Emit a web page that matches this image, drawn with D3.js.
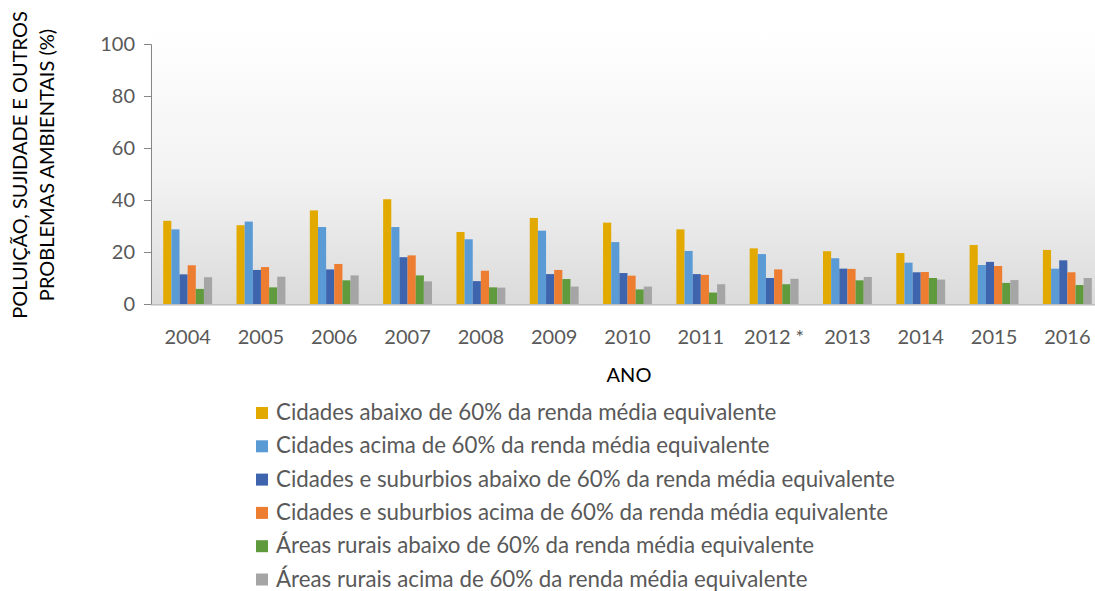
<!DOCTYPE html>
<html>
<head>
<meta charset="utf-8">
<script src="https://cdn.jsdelivr.net/npm/d3@7"></script>
<style>
  body { margin: 0; background: #fff; }
  text { font-family: Lato, "Open Sans", sans-serif; }
</style>
</head>
<body>
<svg id="chart" width="1095" height="591"></svg>
<script>
// Categories and series
const years = ["2004", "2005", "2006", "2007", "2008", "2009", "2010", "2011", "2012 *", "2013", "2014", "2015", "2016"];
const seriesNames = [
    "Cidades abaixo de 60% da renda média equivalente",
    "Cidades acima de 60% da renda média equivalente",
    "Cidades e suburbios abaixo de 60% da renda média equivalente",
    "Cidades e suburbios acima de 60% da renda média equivalente",
    "Áreas rurais abaixo de 60% da renda média equivalente",
    "Áreas rurais acima de 60% da renda média equivalente"
];
const cidadesAbaixo = [32.0, 30.3, 36.0, 40.3, 27.7, 33.1, 31.3, 28.7, 21.4, 20.3, 19.6, 22.7, 20.8];
const cidadesAcima = [28.7, 31.7, 29.6, 29.6, 24.9, 28.2, 23.8, 20.4, 19.2, 17.6, 15.9, 15.0, 13.6];
const suburbiosAbaixo = [11.4, 13.1, 13.3, 18.0, 8.8, 11.5, 11.9, 11.5, 10.0, 13.6, 12.2, 16.2, 16.8];
const suburbiosAcima = [14.9, 14.2, 15.4, 18.7, 12.8, 13.1, 10.9, 11.2, 13.3, 13.5, 12.3, 14.6, 12.2];
const ruraisAbaixo = [5.8, 6.4, 9.1, 11.0, 6.4, 9.6, 5.6, 4.4, 7.6, 9.1, 10.0, 8.1, 7.3];
const ruraisAcima = [10.3, 10.5, 11.0, 8.7, 6.3, 6.7, 6.7, 7.6, 9.7, 10.4, 9.4, 9.2, 10.0];
const yTicks = [0, 20, 40, 60, 80, 100];

const colors = ["#E2AA00", "#5B9BD5", "#3F64AE", "#ED7D31", "#5F9A3D", "#A5A5A5"];
const allSeries = [cidadesAbaixo, cidadesAcima, suburbiosAbaixo, suburbiosAcima, ruraisAbaixo, ruraisAcima];

const svg = d3.select("#chart");
// the plot runs a little past the right edge of the picture
const plot = { left: 151, right: 1104, top: 44, bottom: 304 };

// Plot background gradient
const grad = svg.append("defs").append("linearGradient")
    .attr("id", "bg").attr("x1", 0).attr("y1", 0).attr("x2", 0).attr("y2", 1);
grad.append("stop").attr("offset", "0%").attr("stop-color", "#FFFFFF");
grad.append("stop").attr("offset", "55%").attr("stop-color", "#F2F2F2");
grad.append("stop").attr("offset", "100%").attr("stop-color", "#DADADA");

svg.append("rect")
    .attr("x", plot.left)
    .attr("y", 28)
    .attr("width", plot.right - plot.left)
    .attr("height", 306 - 28)
    .attr("fill", "url(#bg)");

const x0 = d3.scaleBand()
    .domain(years)
    .range([plot.left, plot.right])
    .paddingInner(1 / 3)
    .paddingOuter(1 / 6);

const x1 = d3.scaleBand()
    .domain(d3.range(seriesNames.length))
    .range([0, x0.bandwidth()]);

const y = d3.scaleLinear()
    .domain([0, 100])
    .range([plot.bottom, plot.top]);

// Bars
const groups = svg.append("g")
    .selectAll("g")
    .data(years)
    .join("g")
    .attr("transform", d => `translate(${x0(d)},0)`);

groups.selectAll("rect")
    .data((d, i) => allSeries.map((s, k) => ({ k, v: s[i] })))
    .join("rect")
    .attr("x", d => x1(d.k))
    .attr("y", d => y(d.v))
    .attr("width", x1.bandwidth())
    .attr("height", d => y(0) - y(d.v))
    .attr("fill", d => colors[d.k]);

// Y axis
const yAxis = svg.append("g")
    .attr("transform", `translate(${plot.left},0)`)
    .call(d3.axisLeft(y).tickValues(yTicks).tickSize(7).tickPadding(9));
yAxis.selectAll("path, line").attr("stroke", "#868686");
yAxis.selectAll("text")
    .attr("fill", "#595959")
    .style("font-size", "20px");

// X axis
const xAxis = svg.append("g")
    .attr("transform", `translate(0,${plot.bottom})`)
    .call(d3.axisBottom(x0).tickSize(0).tickPadding(26).tickSizeOuter(0));
xAxis.select("path").attr("stroke", "#BFBFBF");
xAxis.selectAll("text")
    .attr("fill", "#595959")
    .style("font-size", "20px");

// Axis titles
svg.append("text")
    .attr("x", 629)
    .attr("y", 382)
    .attr("text-anchor", "middle")
    .attr("fill", "#000")
    .style("font-size", "20px")
    .text("ANO");

const yTitle = svg.append("text")
    .attr("transform", "translate(0,165) rotate(-90)")
    .attr("text-anchor", "middle")
    .attr("fill", "#000")
    .style("font-size", "20px");
yTitle.append("tspan").attr("x", 0).attr("y", 27).text("POLUIÇÃO, SUJIDADE E OUTROS");
yTitle.append("tspan").attr("x", 0).attr("y", 54).text("PROBLEMAS AMBIENTAIS (%)");

// Legend
const legend = svg.append("g")
    .selectAll("g")
    .data(seriesNames)
    .join("g")
    .attr("transform", (d, i) => `translate(256,${413 + i * 33.3})`);

legend.append("rect")
    .attr("x", 0)
    .attr("y", -6)
    .attr("width", 12)
    .attr("height", 12)
    .attr("fill", (d, i) => colors[i]);

legend.append("text")
    .attr("x", 20)
    .attr("y", 7)
    .attr("fill", "#595959")
    .style("font-size", "22.3px")
    .text(d => d);
</script>
</body>
</html>
